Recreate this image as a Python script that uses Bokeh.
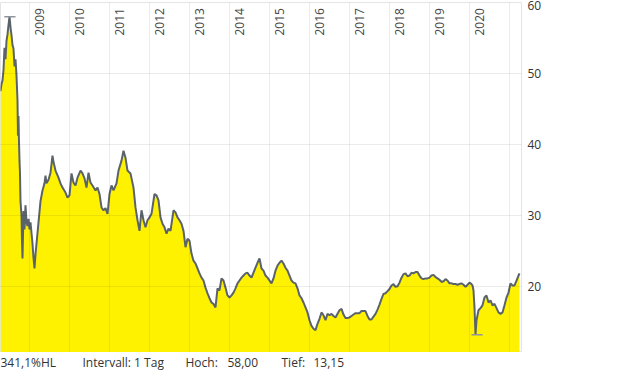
from math import pi
from bokeh.plotting import figure
from bokeh.layouts import column
from bokeh.models import Range1d, FixedTicker, LabelSet, ColumnDataSource
from bokeh.core.properties import value
from bokeh.embed import file_html
from bokeh.resources import INLINE

# ---- data (decimal years, price) ----
dates = [
    2008.275, 2008.300, 2008.325, 2008.350, 2008.375, 2008.400, 2008.425, 2008.450, 2008.475, 2008.500,
    2008.525, 2008.550, 2008.575, 2008.600, 2008.625, 2008.650, 2008.675, 2008.700, 2008.712, 2008.725,
    2008.737, 2008.750, 2008.762, 2008.775, 2008.800, 2008.812, 2008.825, 2008.850, 2008.875, 2008.900,
    2008.925, 2008.950, 2008.975, 2009.000, 2009.025, 2009.050, 2009.075, 2009.100, 2009.125, 2009.150,
    2009.175, 2009.200, 2009.225, 2009.250, 2009.275, 2009.325, 2009.375, 2009.400, 2009.425, 2009.475,
    2009.525, 2009.575, 2009.600, 2009.650, 2009.725, 2009.775, 2009.825, 2009.900, 2009.950, 2010.000,
    2010.050, 2010.100, 2010.150, 2010.200, 2010.275, 2010.325, 2010.375, 2010.425, 2010.475, 2010.525,
    2010.575, 2010.650, 2010.700, 2010.750, 2010.800, 2010.850, 2010.900, 2010.950, 2011.000, 2011.050,
    2011.100, 2011.175, 2011.225, 2011.300, 2011.350, 2011.400, 2011.450, 2011.525, 2011.600, 2011.650,
    2011.700, 2011.750, 2011.800, 2011.850, 2011.900, 2011.950, 2012.000, 2012.050, 2012.125, 2012.175,
    2012.225, 2012.275, 2012.325, 2012.375, 2012.425, 2012.475, 2012.525, 2012.600, 2012.650, 2012.700,
    2012.750, 2012.800, 2012.850, 2012.900, 2012.950, 2013.000, 2013.050, 2013.100, 2013.150, 2013.200,
    2013.250, 2013.300, 2013.350, 2013.400, 2013.450, 2013.500, 2013.550, 2013.600, 2013.650, 2013.700,
    2013.750, 2013.800, 2013.850, 2013.900, 2013.950, 2014.000, 2014.050, 2014.100, 2014.150, 2014.200,
    2014.250, 2014.300, 2014.350, 2014.400, 2014.450, 2014.500, 2014.550, 2014.600, 2014.650, 2014.700,
    2014.750, 2014.800, 2014.850, 2014.900, 2014.950, 2015.000, 2015.050, 2015.100, 2015.150, 2015.200,
    2015.250, 2015.300, 2015.350, 2015.400, 2015.450, 2015.500, 2015.550, 2015.600, 2015.650, 2015.700,
    2015.750, 2015.800, 2015.850, 2015.900, 2015.950, 2016.000, 2016.050, 2016.100, 2016.150, 2016.200,
    2016.250, 2016.300, 2016.350, 2016.400, 2016.450, 2016.500, 2016.550, 2016.600, 2016.650, 2016.700,
    2016.750, 2016.800, 2016.850, 2016.900, 2016.950, 2017.000, 2017.050, 2017.100, 2017.150, 2017.200,
    2017.250, 2017.300, 2017.350, 2017.400, 2017.450, 2017.500, 2017.550, 2017.600, 2017.650, 2017.700,
    2017.750, 2017.800, 2017.850, 2017.900, 2017.950, 2018.000, 2018.050, 2018.100, 2018.150, 2018.200,
    2018.250, 2018.300, 2018.350, 2018.400, 2018.450, 2018.500, 2018.550, 2018.600, 2018.650, 2018.700,
    2018.750, 2018.800, 2018.850, 2018.900, 2018.950, 2019.000, 2019.050, 2019.100, 2019.150, 2019.200,
    2019.250, 2019.300, 2019.350, 2019.400, 2019.450, 2019.500, 2019.550, 2019.600, 2019.650, 2019.700,
    2019.750, 2019.800, 2019.850, 2019.900, 2019.950, 2020.000, 2020.050, 2020.075, 2020.100, 2020.125,
    2020.150, 2020.175, 2020.225, 2020.275, 2020.325, 2020.375, 2020.425, 2020.475, 2020.525, 2020.575,
    2020.625, 2020.675, 2020.725, 2020.775, 2020.825, 2020.875, 2020.925, 2020.975, 2021.025, 2021.075,
    2021.125, 2021.175, 2021.225, 2021.250,
]
prices = [
    47.5, 48.5, 49.0, 50.5, 53.6, 52.0, 54.6, 55.5, 56.8, 58.0,
    56.5, 55.4, 54.0, 53.5, 51.0, 52.0, 49.7, 46.2, 41.2, 44.0,
    40.5, 37.7, 36.0, 32.0, 30.0, 26.4, 23.9, 30.6, 28.0, 31.4,
    29.0, 28.5, 29.5, 28.0, 29.0, 27.5, 26.0, 24.0, 22.5, 24.5,
    26.0, 27.5, 29.0, 30.5, 32.0, 33.5, 34.5, 35.6, 34.5, 35.0,
    36.0, 38.4, 37.5, 36.3, 35.3, 34.5, 33.9, 33.2, 32.5, 32.8,
    35.9, 34.6, 34.2, 35.3, 36.3, 35.9, 35.2, 33.9, 36.0, 34.6,
    34.2, 33.5, 33.9, 33.0, 31.1, 30.7, 31.0, 30.2, 33.0, 34.2,
    33.5, 34.5, 36.3, 37.7, 39.1, 38.1, 36.3, 35.9, 33.9, 31.1,
    29.3, 27.8, 30.7, 29.3, 28.3, 29.3, 29.7, 30.2, 33.0, 32.8,
    32.1, 29.7, 28.8, 28.3, 27.4, 28.1, 27.8, 30.7, 30.4, 29.7,
    29.3, 28.8, 27.8, 25.5, 26.7, 26.4, 24.6, 23.6, 23.2, 22.5,
    21.8, 21.2, 20.8, 19.8, 19.0, 18.3, 17.7, 17.5, 17.0, 19.7,
    19.4, 21.1, 20.8, 19.8, 18.7, 18.4, 18.7, 19.1, 19.7, 20.4,
    20.8, 21.2, 21.5, 21.8, 21.9, 21.5, 21.2, 21.9, 22.6, 23.3,
    23.9, 22.5, 22.2, 21.5, 21.2, 20.8, 20.4, 21.1, 22.2, 22.9,
    23.3, 23.6, 23.2, 22.6, 22.2, 21.5, 20.8, 20.5, 20.4, 19.7,
    18.7, 18.3, 17.7, 17.0, 16.3, 15.2, 14.4, 14.0, 13.8, 14.7,
    15.4, 16.3, 15.9, 15.2, 16.1, 15.9, 16.1, 15.8, 15.6, 16.1,
    16.6, 16.8, 16.0, 15.5, 15.5, 15.6, 15.8, 16.0, 16.2, 16.2,
    16.2, 16.5, 16.5, 16.5, 15.8, 15.3, 15.3, 15.7, 16.1, 16.7,
    17.4, 18.2, 18.9, 19.0, 19.3, 19.6, 20.1, 20.3, 19.9, 20.0,
    20.5, 21.2, 21.7, 21.8, 21.4, 21.5, 21.9, 21.8, 22.0, 22.0,
    21.5, 21.1, 21.0, 21.1, 21.1, 21.2, 21.5, 21.6, 21.3, 21.1,
    20.9, 20.6, 20.7, 21.0, 20.8, 20.4, 20.4, 20.3, 20.3, 20.2,
    20.3, 20.4, 20.2, 19.9, 20.2, 20.5, 20.3, 20.1, 19.4, 17.0,
    13.15, 15.2, 16.6, 16.9, 17.3, 18.4, 18.7, 17.7, 18.0, 17.3,
    17.5, 16.9, 16.3, 16.1, 16.3, 17.3, 18.4, 19.1, 20.4, 20.1,
    20.1, 20.8, 21.5, 21.8,
]
year_grid = [2009, 2010, 2011, 2012, 2013, 2014, 2015, 2016, 2017, 2018, 2019, 2020, 2021]
year_labels = ["2009", "2010", "2011", "2012", "2013", "2014", "2015", "2016", "2017", "2018", "2019", "2020"]
y_ticks = [20, 30, 40, 50, 60]
hoch_value, hoch_date = 58.00, 2008.51
tief_value, tief_date = 13.15, 2020.19
footer_texts = ["341,1%HL", "Intervall: 1 Tag", "Hoch:", "58,00", "Tief:", "13,15"]

FONT = "Open Sans"
TXT = "#333333"

p = figure(width=620, height=352, output_backend="svg", toolbar_location=None,
           x_range=Range1d(2008.275, 2021.3), y_range=Range1d(10.65, 60.0),
           x_axis_location=None, y_axis_location="right",
           min_border_left=0, min_border_top=2, min_border_right=99, min_border_bottom=0)
p.background_fill_color = "white"
p.border_fill_color = "white"
p.outline_line_color = "#e4e4e4"

# area + line
p.varea(x=dates, y1=0, y2=prices, fill_color="#fff200")
p.line(dates, prices, line_color="#5b636a", line_width=2)

# high / low markers
mw = 0.14
p.segment(x0=[hoch_date - mw, tief_date - mw], y0=[hoch_value, tief_value],
          x1=[hoch_date + mw, tief_date + mw], y1=[hoch_value, tief_value],
          line_color="#8e959c", line_width=1.5)

# grid
p.xgrid.ticker = FixedTicker(ticks=year_grid)
p.ygrid.ticker = FixedTicker(ticks=y_ticks)
for g in (p.xgrid, p.ygrid):
    g.grid_line_color = "black"
    g.grid_line_alpha = 0.075
    g.level = "overlay"

# right y axis
ax = p.yaxis[0]
ax.ticker = FixedTicker(ticks=y_ticks)
ax.axis_line_color = None
ax.major_tick_line_color = None
ax.minor_tick_line_color = None
ax.major_tick_out = 0
ax.major_tick_in = 0
ax.major_label_standoff = 6
ax.major_label_text_font = FONT
ax.major_label_text_font_size = "12px"
ax.major_label_text_color = TXT

# rotated year labels
src = ColumnDataSource(dict(x=year_grid[:len(year_labels)], y=[317] * len(year_labels), t=year_labels))
p.add_layout(LabelSet(x="x", y="y", text="t", source=src, y_units="screen",
                      angle=pi / 2, x_offset=10, text_align="left", text_baseline="middle",
                      text_font=value(FONT), text_font_size=value("12px"), text_color="#444444"))

# footer strip (frame aligned with main frame: 521 px wide)
footer_x = [0, 82, 185, 227, 281, 313]
f = figure(width=620, height=20, output_backend="svg", toolbar_location=None,
           x_range=Range1d(0, 521), y_range=Range1d(0, 20),
           x_axis_location=None, y_axis_location=None,
           min_border_left=0, min_border_right=99, min_border_top=0, min_border_bottom=0)
f.outline_line_color = None
f.xgrid.visible = False
f.ygrid.visible = False
f.text(x=footer_x, y=[10] * len(footer_texts), text=footer_texts,
       text_baseline="middle", text_align="left",
       text_font=value(FONT), text_font_size=value("12px"), text_color=TXT)

layout = column(p, f, spacing=0)
open("out.html", "w").write(file_html(layout, INLINE))
